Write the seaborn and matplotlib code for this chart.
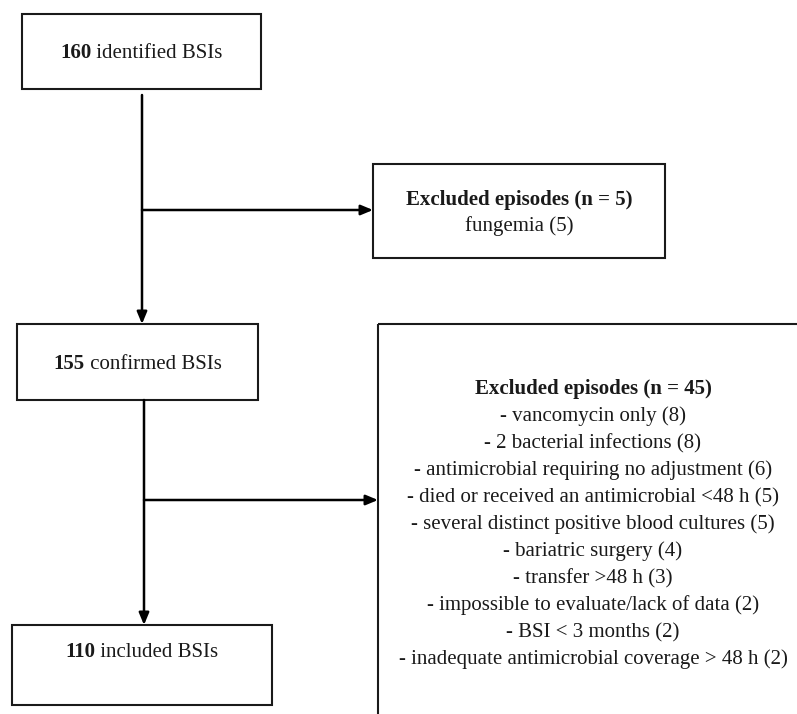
import numpy as np
import seaborn as sns
import matplotlib.pyplot as plt
from matplotlib.patches import Rectangle

sns.set_theme(style="white")
plt.rcParams["font.family"] = ["Liberation Serif", "DejaVu Serif"]

# flowchart content
counts = [160, 155, 110]
stage_labels = ["identified BSIs", "confirmed BSIs", "included BSIs"]

excl1_title = "Excluded episodes (n = 5)"
excl1_reasons = ["fungemia (5)"]

excl2_title = "Excluded episodes (n = 45)"
excl2_reasons = [
    "- vancomycin only (8)",
    "- 2 bacterial infections (8)",
    "- antimicrobial requiring no adjustment (6)",
    "- died or received an antimicrobial <48 h (5)",
    "- several distinct positive blood cultures (5)",
    "- bariatric surgery (4)",
    "- transfer >48 h (3)",
    "- impossible to evaluate/lack of data (2)",
    "- BSI < 3 months (2)",
    "- inadequate antimicrobial coverage > 48 h (2)",
]

# layout in pixel units (x0, y0, x1, y1); text y values are baselines
stage_boxes = [(22, 14, 261, 89), (17, 324, 258, 400), (12, 625, 272, 705)]
stage_text_y = [58, 369, 657]
excl1_box = (373, 164, 665, 258)
excl2_box = (378, 324, 800, 720)

FS = 15
W, H = 797, 714
TXT = "#1a1a1a"

fig = plt.figure(figsize=(W / 100, H / 100), dpi=100)
ax = fig.add_axes([0, 0, 1, 1])
ax.set_xlim(0, W)
ax.set_ylim(H, 0)
ax.axis("off")


def box(b):
    x0, y0, x1, y1 = b
    ax.add_patch(Rectangle((x0, y0), x1 - x0, y1 - y0, fill=False,
                           edgecolor=TXT, lw=1.5, clip_on=True))


def arrow(x0, y0, x1, y1):
    ax.annotate("", xy=(x1, y1), xytext=(x0, y0),
                arrowprops=dict(arrowstyle="-|>,head_length=0.6,head_width=0.25",
                                color="black", lw=1.8, shrinkA=0, shrinkB=0))


renderer = fig.canvas.get_renderer()


def mixed_label(cx, y, num, rest):
    t1 = ax.text(0, y, str(num), fontsize=FS, fontweight="bold",
                 ha="left", va="baseline", color=TXT)
    t2 = ax.text(0, y, " " + rest, fontsize=FS, ha="left",
                 va="baseline", color=TXT)
    w1 = t1.get_window_extent(renderer).width
    w2 = t2.get_window_extent(renderer).width
    start = cx - (w1 + w2) / 2
    t1.set_x(start)
    t2.set_x(start + w1)


for b, ty, n, lab in zip(stage_boxes, stage_text_y, counts, stage_labels):
    box(b)
    mixed_label((b[0] + b[2]) / 2, ty, n, lab)

box(excl1_box)
box(excl2_box)

# excluded boxes text
cx1 = (excl1_box[0] + excl1_box[2]) / 2
ax.text(cx1, 205, excl1_title, fontsize=FS, fontweight="bold", ha="center",
        va="baseline", color=TXT)
for i, r in enumerate(excl1_reasons):
    ax.text(cx1, 231 + i * 27, r, fontsize=FS, ha="center",
            va="baseline", color=TXT)

cx2 = 593
ax.text(cx2, 394, excl2_title, fontsize=FS, fontweight="bold", ha="center",
        va="baseline", color=TXT)
for i, r in enumerate(excl2_reasons):
    ax.text(cx2, 421 + i * 27, r, fontsize=FS, ha="center",
            va="baseline", color=TXT)

# arrows
arrow(142, 95, 142, 324)
arrow(142, 210, 373, 210)
arrow(144, 400, 144, 625)
arrow(144, 500, 378, 500)

fig.savefig("out.png", dpi=100, facecolor="white")
